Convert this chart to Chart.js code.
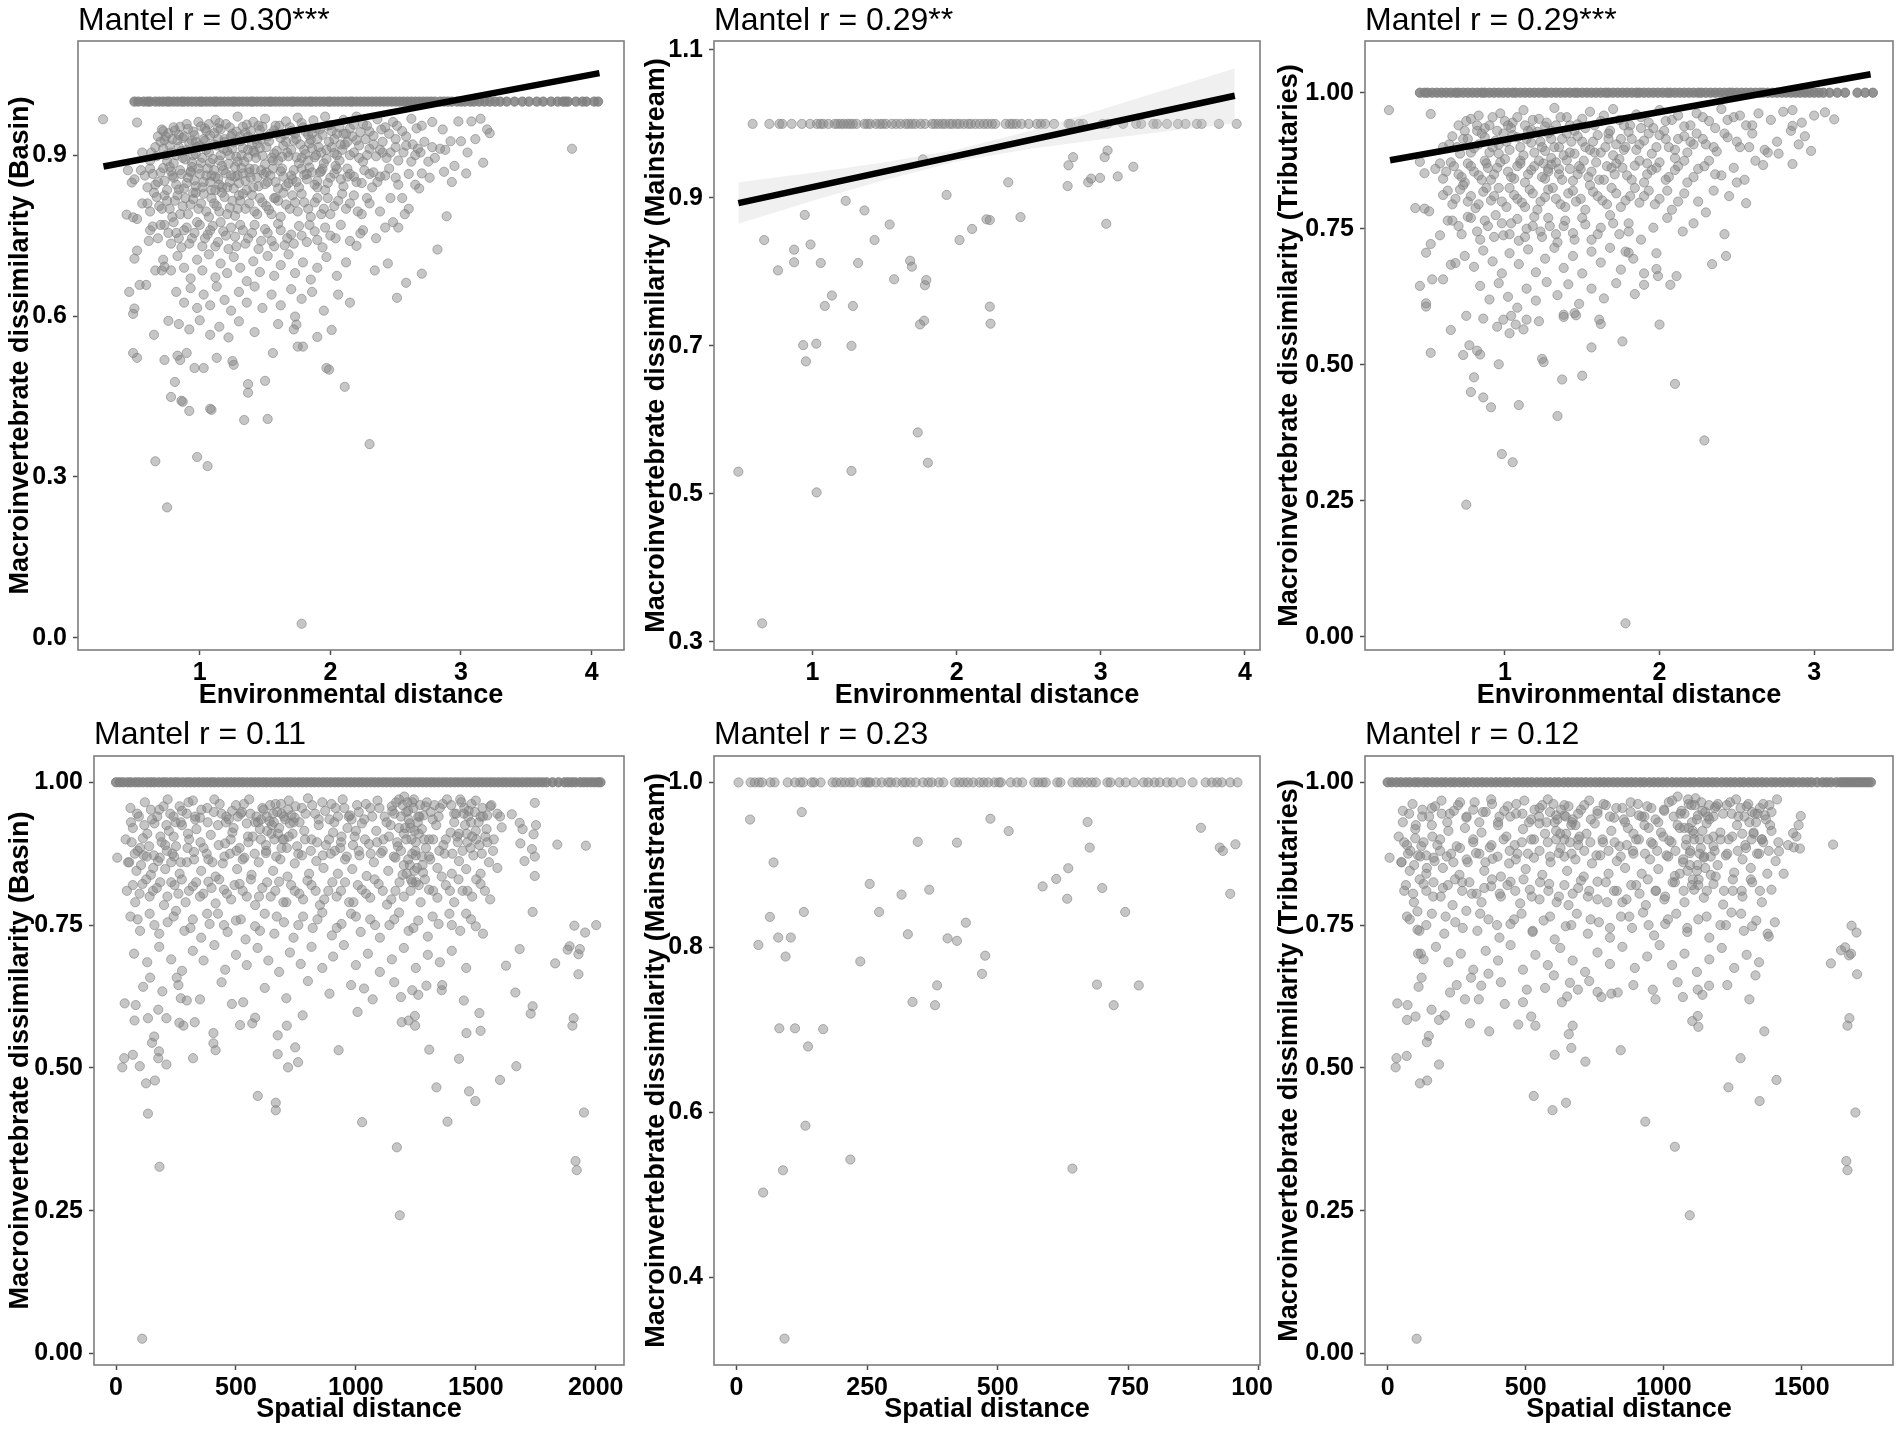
<!DOCTYPE html>
<html>
<head>
<meta charset="utf-8">
<title>Mantel plots</title>
<script src="https://cdn.jsdelivr.net/npm/chart.js@4.4.1/dist/chart.umd.min.js"></script>
<style>
  body { margin: 0; background: #fff; }
  #page { position: relative; width: 1902px; height: 1430px; overflow: hidden; background: #fff; }
  .cell { position: absolute; overflow: hidden; }
  .cell canvas { display: block; }
  .ttl { position: absolute; font: 32px 'Liberation Sans', Arial, sans-serif; line-height: 32px; color: #000; white-space: nowrap; }
</style>
</head>
<body>
<div id="page"></div>
<script>
// ---- text ----
const panelTitles = ['Mantel r = 0.30***', 'Mantel r = 0.29**', 'Mantel r = 0.29***',
                     'Mantel r = 0.11', 'Mantel r = 0.23', 'Mantel r = 0.12'];
const yTitles = ['Macroinvertebrate dissimilarity (Basin)', 'Macroinvertebrate dissimilarity (Mainstream)',
                 'Macroinvertebrate dissimilarity (Tributaries)'];
const xTitles = ['Environmental distance', 'Spatial distance'];

// ---- tick values ----
const basinEnvXTicks = [1, 2, 3, 4], basinEnvYTicks = [0, 0.3, 0.6, 0.9];
const mainEnvXTicks = [1, 2, 3, 4], mainEnvYTicks = [0.3, 0.5, 0.7, 0.9, 1.1];
const tribEnvXTicks = [1, 2, 3], tribEnvYTicks = [0, 0.25, 0.5, 0.75, 1];
const basinSpaXTicks = [0, 500, 1000, 1500, 2000], basinSpaYTicks = [0, 0.25, 0.5, 0.75, 1];
const mainSpaXTicks = [0, 250, 500, 750, 1000], mainSpaYTicks = [0.4, 0.6, 0.8, 1];
const tribSpaXTicks = [0, 500, 1000, 1500], tribSpaYTicks = [0, 0.25, 0.5, 0.75, 1];

// ---- fitted lines ----
const basinEnvFitX = [0.263, 4.06], basinEnvFitY = [0.879, 1.053];
const mainEnvFitX = [0.485, 3.93], mainEnvFitY = [0.893, 1.038];
const tribEnvFitX = [0.257, 3.365], tribEnvFitY = [0.876, 1.034];
const mainEnvBandX = [0.485, 1.0, 1.5, 2.0, 2.5, 3.0, 3.5, 3.93];
const mainEnvBandHi = [0.921, 0.934, 0.948, 0.965, 0.990, 1.019, 1.049, 1.075];
const mainEnvBandLo = [0.865, 0.896, 0.924, 0.949, 0.966, 0.979, 0.991, 1.001];

// ---- pairs with dissimilarity = 1 (x only) ----
const basinEnvOnes = [0.5,0.53,0.57,0.6,0.62,0.66,0.69,0.72,0.75,0.77,0.8,0.83,0.86,0.88,0.91,0.94,0.97,1.0,1.02,1.05,1.08,1.11,1.13,1.16,1.19,1.22,1.25,1.27,1.3,1.33,1.36,1.39,1.41,1.44,1.47,1.5,1.53,1.55,1.58,1.61,1.64,1.67,1.7,1.72,1.75,1.78,1.81,1.84,1.86,1.89,1.92,1.95,1.98,2.0,2.03,2.06,2.09,2.12,2.15,2.17,2.2,2.23,2.26,2.29,2.32,2.35,2.38,2.41,2.44,2.47,2.5,2.53,2.56,2.59,2.62,2.65,2.68,2.71,2.74,2.77,2.8,2.84,2.87,2.9,2.93,2.97,3.0,3.03,3.07,3.1,3.14,3.18,3.22,3.26,3.3,3.35,3.41,3.47,3.52,3.58,3.63,3.69,3.74,3.78,3.8,3.82,3.88,3.93,3.96,4.02,4.05];
const mainEnvOnes = [0.584,0.70,0.77,0.79,0.855,0.926,0.983,1.03,1.054,1.074,1.11,1.154,1.174,1.196,1.216,1.24,1.26,1.28,1.305,1.36,1.38,1.40,1.44,1.467,1.487,1.51,1.55,1.58,1.61,1.646,1.666,1.69,1.714,1.75,1.78,1.83,1.85,1.874,1.90,1.92,1.95,1.97,2.0,2.02,2.05,2.08,2.10,2.13,2.16,2.19,2.215,2.244,2.267,2.34,2.37,2.39,2.415,2.45,2.50,2.557,2.585,2.614,2.676,2.776,2.79,2.85,2.876,3.012,3.047,3.155,3.246,3.28,3.365,3.39,3.46,3.536,3.588,3.667,3.70,3.82,3.943];
const tribEnvOnes = [0.45,0.48,0.5,0.53,0.56,0.59,0.62,0.65,0.68,0.7,0.73,0.76,0.79,0.82,0.85,0.87,0.9,0.93,0.96,0.99,1.02,1.05,1.07,1.1,1.13,1.16,1.19,1.22,1.25,1.27,1.3,1.33,1.36,1.39,1.42,1.45,1.47,1.5,1.53,1.56,1.59,1.62,1.65,1.67,1.7,1.73,1.76,1.79,1.82,1.85,1.87,1.9,1.93,1.96,1.99,2.02,2.05,2.07,2.1,2.13,2.16,2.19,2.22,2.25,2.27,2.3,2.33,2.36,2.39,2.42,2.45,2.47,2.5,2.53,2.56,2.59,2.62,2.65,2.67,2.7,2.73,2.76,2.79,2.82,2.85,2.88,2.91,2.94,2.97,3.0,3.03,3.06,3.1,3.15,3.2,3.28,3.33,3.38];
const basinSpaOnes = [0,15,30,48,62,80,95,112,130,145,160,178,195,210,228,245,260,278,295,310,328,345,362,378,395,410,428,445,462,478,495,512,528,545,562,578,595,612,628,645,662,678,695,712,728,745,762,778,795,812,828,845,862,878,895,912,928,945,962,978,995,1012,1028,1045,1062,1078,1095,1112,1128,1145,1162,1178,1195,1212,1228,1245,1262,1278,1295,1312,1328,1345,1362,1378,1395,1412,1428,1445,1462,1478,1495,1512,1528,1545,1562,1578,1595,1612,1628,1645,1662,1678,1695,1712,1728,1745,1762,1778,1795,1820,1845,1870,1885,1900,1915,1935,1950,1965,1980,1995,2010,2020];
const mainSpaOnes = [4,27,35,43,49,65,73,98,112,122,128,144,149,161,184,191,200,208,217,224,239,247,252,256,267,278,290,296,306,318,324,333,343,357,367,374,387,396,418,427,435,443,453,465,473,482,494,502,506,525,537,547,570,578,586,592,614,620,643,653,661,671,680,688,710,716,733,745,761,779,788,800,810,824,835,851,873,898,910,920,929,945,959];
const tribSpaOnes = [0,15,32,48,65,80,98,112,130,145,162,178,195,210,228,243,260,276,292,310,326,342,358,375,392,408,425,440,458,474,490,506,522,540,556,572,588,605,620,638,654,670,686,702,718,735,752,768,784,800,817,833,850,866,882,898,915,930,948,964,980,996,1012,1030,1046,1062,1078,1095,1110,1128,1144,1160,1176,1192,1210,1226,1242,1258,1275,1290,1308,1324,1340,1356,1372,1390,1405,1422,1438,1455,1470,1488,1504,1520,1535,1555,1575,1590,1605,1625,1640,1650,1660,1670,1680,1690,1700,1710,1720,1730,1740,1750];

// ---- remaining pairs [distance, dissimilarity] ----
const basinEnvPts = [
  [0.26,.967],[0.52,.961],[3.85,.912],[3.17,.886],[3.04,.866],[2.95,.88],[2.82,.724],[2.89,.786],[2.7,.679],[2.58,.662],[2.51,.634],[2.44,.698],[2.34,.685],[2.23,.754],[2.2,.731],[2.3,.361],[2.11,.468],[2.01,.574],[1.97,.503],[1.99,.5],[1.9,.561],[1.79,.543],[1.75,.543],[1.78,.026],[1.73,.599],[1.74,.584],[1.56,.531],[1.52,.408],[1.5,.479],[1.37,.473],[1.37,.457],[1.34,.406],[1.26,.509],[1.25,.516],[1.13,.522],[1.09,.425],[1.08,.427],[1.06,.32],[0.98,.337],[1.03,.503],[0.96,.503],[0.92,.423],[0.87,.44],[0.86,.442],[0.9,.531],[0.85,.518],[0.83,.526],[0.81,.477],[0.78,.449],[0.75,.243],[0.66,.329],[0.73,.518],[0.76,.591],[0.65,.565],[0.52,.522],[0.49,.531],[0.49,.604],[0.5,.614],[0.46,.645],[0.54,.658],[0.59,.658],[0.44,.789],[0.49,.784],[0.52,.781],[0.5,.707],[0.52,.722],[0.61,.74],[0.64,.767],[0.66,.685],[0.71,.685],[0.73,.692],[0.45,.872],[0.48,.849],
  [2.98,.963],[3.11,.93],[3.22,.941],[3.0,.926],[2.92,.926],[2.78,.915],[2.84,.912],[2.67,.912],[2.62,.888],[2.75,.888],[2.7,.866],[2.65,.845],[2.87,.869],[2.55,.82],[2.6,.8],[2.57,.79],[2.48,.775],[2.52,.765],
  [0.72,.945],[0.8,.952],[0.84,.938],[0.9,.958],[0.95,.944],[0.99,.962],[1.04,.95],[1.08,.937],[1.12,.966],[1.16,.948],[1.2,.958],[1.25,.94],[1.29,.972],[1.33,.953],[1.37,.935],[1.41,.962],[1.46,.947],[1.5,.968],[1.54,.94],[1.58,.955],[1.62,.932],[1.66,.963],[1.7,.945],[1.75,.97],[1.79,.952],[1.83,.938],[1.87,.965],[1.92,.948],[1.96,.972],[2.0,.956],[2.05,.94],[2.1,.966],[2.15,.95],[2.2,.972],[2.25,.958],[2.3,.944],[2.36,.967],[2.42,.952],[2.48,.962],[2.55,.945],[2.62,.968],[2.7,.955],[2.78,.962],[2.86,.948],[3.08,.963],[3.15,.968],[3.2,.948],
  [0.56,.905],[0.62,.89],[0.66,.915],[0.7,.925],[0.74,.9],[0.77,.918],[0.8,.885],[0.83,.928],[0.86,.908],[0.89,.892],[0.92,.922],[0.95,.9],[0.98,.915],[1.01,.886],[1.04,.927],[1.07,.905],[1.1,.893],[1.13,.918],[1.16,.9],[1.19,.925],[1.22,.884],[1.25,.912],[1.28,.897],[1.31,.926],[1.34,.888],[1.37,.91],[1.4,.92],[1.43,.895],[1.46,.913],[1.5,.883],[1.53,.926],[1.57,.903],[1.6,.89],[1.64,.918],[1.68,.898],[1.72,.927],[1.76,.885],[1.8,.91],[1.84,.922],[1.88,.896],[1.91,.915],[1.95,.885],[1.99,.925],[2.03,.904],[2.07,.89],[2.11,.92],[2.15,.9],[2.2,.928],[2.25,.888],[2.3,.912],[2.35,.898],[2.4,.925],[2.46,.905],[2.52,.89],[2.58,.918],[2.65,.9],[2.72,.925],[2.8,.895],[2.88,.91],[3.05,.905],
  [0.5,.855],[0.55,.872],[0.6,.84],[0.64,.865],[0.68,.85],[0.72,.876],[0.75,.835],[0.79,.862],[0.82,.845],[0.85,.872],[0.88,.838],[0.91,.858],[0.94,.878],[0.97,.842],[1.0,.865],[1.03,.85],[1.06,.875],[1.09,.835],[1.12,.86],[1.15,.845],[1.18,.872],[1.21,.84],[1.24,.862],[1.27,.878],[1.3,.848],[1.33,.866],[1.36,.835],[1.39,.858],[1.42,.874],[1.45,.842],[1.49,.865],[1.52,.85],[1.56,.875],[1.6,.838],[1.64,.86],[1.68,.848],[1.72,.872],[1.76,.84],[1.8,.863],[1.84,.877],[1.88,.845],[1.92,.868],[1.96,.835],[2.0,.858],[2.05,.874],[2.1,.842],[2.15,.865],[2.2,.85],[2.26,.872],[2.32,.84],[2.38,.86],[2.45,.875],[2.52,.845],[2.6,.865],[2.68,.838],[2.76,.858],[2.93,.85],
  [0.56,.81],[0.62,.795],[0.67,.822],[0.71,.8],[0.75,.815],[0.79,.785],[0.83,.825],[0.87,.805],[0.91,.79],[0.95,.818],[0.99,.8],[1.03,.828],[1.07,.785],[1.11,.81],[1.15,.795],[1.19,.822],[1.23,.802],[1.27,.787],[1.31,.815],[1.35,.8],[1.4,.826],[1.44,.79],[1.48,.812],[1.53,.798],[1.57,.82],[1.62,.785],[1.66,.808],[1.71,.825],[1.75,.795],[1.8,.812],[1.85,.785],[1.9,.82],[1.95,.8],[2.0,.79],[2.06,.815],[2.12,.8],[2.18,.825],[2.24,.79],[2.3,.81],[2.38,.795],[2.46,.82],
  [0.62,.76],[0.68,.745],[0.73,.77],[0.78,.735],[0.82,.755],[0.86,.728],[0.9,.765],[0.94,.745],[0.98,.775],[1.02,.73],[1.06,.752],[1.1,.768],[1.14,.738],[1.18,.758],[1.22,.725],[1.27,.748],[1.31,.77],[1.35,.735],[1.4,.755],[1.45,.725],[1.5,.762],[1.55,.74],[1.6,.772],[1.65,.732],[1.7,.752],[1.76,.768],[1.82,.738],[1.88,.758],[1.94,.728],[2.0,.75],[2.08,.77],[2.15,.74],[2.25,.76],[2.35,.745],[2.42,.765],
  [0.72,.705],[0.78,.685],[0.83,.712],[0.88,.69],[0.93,.67],[0.98,.705],[1.02,.685],[1.07,.715],[1.12,.672],[1.16,.698],[1.21,.68],[1.26,.71],[1.31,.69],[1.36,.665],[1.41,.702],[1.46,.682],[1.52,.712],[1.57,.675],[1.62,.695],[1.68,.715],[1.73,.68],[1.79,.7],[1.85,.668],[1.9,.69],[1.97,.71],[2.05,.675],[2.12,.7],
  [0.82,.645],[0.88,.625],[0.93,.652],[0.98,.615],[1.03,.64],[1.08,.62],[1.13,.655],[1.19,.63],[1.24,.61],[1.3,.645],[1.36,.625],[1.42,.655],[1.48,.615],[1.55,.64],[1.62,.62],[1.7,.65],[1.78,.632],[1.86,.645],[1.95,.61],[2.06,.64],[2.15,.625],
  [0.84,.585],[0.92,.575],[1.0,.592],[1.08,.565],[1.15,.58],[1.22,.56],[1.3,.59],[1.42,.57],[1.6,.585],[1.72,.575],
  [0.82,.9],[0.88,.935],[0.93,.87],[0.97,.925],[1.02,.895],[1.05,.945],[1.09,.862],[1.14,.93],[1.17,.88],[1.21,.908],[1.24,.935],[1.27,.86],[1.32,.9],[1.35,.942],[1.38,.875],[1.42,.905],[1.47,.93],[1.51,.868],[1.55,.895],[1.59,.94],[1.63,.875],[1.67,.905],[1.71,.855],[1.74,.93],[1.78,.895],[1.82,.865],[1.86,.94],[1.89,.9],[1.93,.87],[1.97,.91],[2.01,.945],[2.04,.88],[2.08,.92],[2.13,.86],[2.17,.935],[2.22,.895],[2.27,.93],[2.33,.868],[2.4,.905],[0.78,.87],[0.74,.935],[1.12,.835],[1.3,.825],[1.58,.82],[1.9,.84],[2.1,.94],[1.45,.955],[1.15,.96],[0.95,.83],[2.5,.93],
  [0.68,.935],[0.71,.948],[0.73,.928],[0.76,.941],[0.79,.93],[0.81,.946],[0.85,.953],[0.87,.932],[0.91,.949],[0.94,.927],[0.96,.937],[1.01,.954],[1.03,.93],[1.07,.958],[1.11,.941],[1.14,.95],[1.19,.93],[1.23,.952],[1.28,.944],[1.31,.935],[1.36,.957],[1.39,.945],[1.43,.93],[1.48,.953],[1.52,.935],[1.57,.946],[1.61,.955],[1.65,.938],[1.69,.952],[1.73,.94],[1.78,.96],[1.81,.944],[1.85,.929],[1.89,.95],[1.94,.938],[1.98,.955],[2.03,.93],[2.07,.952],[2.12,.94],[2.18,.957],[2.23,.943],[2.28,.955],[2.33,.936],[2.39,.948],[2.45,.94],[2.51,.955],[2.58,.935],[2.66,.95],
  [0.63,.905],[0.67,.898],[0.72,.912],[0.75,.889],[0.78,.905],[0.84,.915],[0.87,.895],[0.9,.91],[0.94,.887],[0.97,.902],[1.0,.918],[1.05,.91],[1.08,.886],[1.11,.92],[1.15,.89],[1.18,.912],[1.23,.9],[1.26,.924],[1.29,.888],[1.33,.913],[1.37,.896],[1.41,.908],[1.44,.922],[1.48,.899],[1.51,.915],[1.56,.89],[1.59,.908],[1.63,.897],[1.66,.925],[1.7,.91],[1.74,.896],[1.77,.92],[1.81,.902],[1.83,.89],[1.86,.913],[1.9,.93],[1.93,.905],[1.97,.893],[2.01,.915],[2.05,.9],[2.09,.91],[2.13,.925],[2.18,.905],[2.22,.918],[2.28,.9],[2.33,.92],[2.38,.91],[2.43,.895],[2.5,.915],[2.56,.905],[2.63,.92],[2.69,.905],
  [0.58,.862],[0.62,.875],[0.66,.845],[0.7,.868],[0.73,.852],[0.77,.878],[0.8,.858],[0.84,.836],[0.86,.865],[0.9,.848],[0.93,.868],[0.96,.853],[0.99,.875],[1.02,.84],[1.05,.862],[1.08,.85],[1.11,.872],[1.14,.856],[1.17,.84],[1.2,.866],[1.23,.85],[1.26,.838],[1.29,.862],[1.32,.876],[1.35,.852],[1.38,.868],[1.41,.84],[1.44,.858],[1.47,.872],[1.5,.846],[1.54,.862],[1.58,.85],[1.62,.87],[1.66,.842],[1.7,.862],[1.74,.85],[1.78,.875],[1.82,.855],[1.86,.868],[1.9,.852],[1.94,.875],[1.98,.848],[2.03,.866],[2.08,.855],[2.13,.875],[2.18,.86],[2.24,.848],[2.3,.865],[2.36,.85],[2.42,.862],[2.5,.858],
  [0.6,.81],[0.65,.83],[0.69,.805],[0.73,.825],[0.77,.8],[0.81,.815],[0.85,.79],[0.89,.82],[0.93,.808],[0.97,.83],[1.01,.81],[1.05,.795],[1.09,.82],[1.13,.805],[1.17,.83],[1.21,.79],[1.25,.815],[1.29,.8],[1.33,.828],[1.38,.81],[1.42,.795],[1.46,.82],[1.51,.805],[1.55,.79],[1.6,.815],[1.64,.83],[1.69,.8],[1.73,.812],[1.78,.828],[1.83,.8],[1.88,.812],[1.93,.79],[1.98,.82],[2.03,.805],[2.09,.828],[2.15,.81],[2.21,.795],[2.28,.82],
  [0.7,.77],[0.76,.755],[0.8,.775],[0.84,.745],[0.88,.76],[0.92,.735],[0.96,.755],[1.0,.77],[1.04,.745],[1.08,.76],[1.12,.73],[1.16,.775],[1.2,.75],[1.24,.765],[1.28,.73],[1.33,.76],[1.37,.745],[1.42,.77],[1.47,.74],[1.52,.755],[1.57,.73],[1.62,.76],[1.67,.745],[1.72,.735],[1.78,.75],[1.84,.77],[1.9,.742],[1.96,.765],[2.04,.745]
];
const mainEnvPts = [
  [0.485,.53],[0.65,.325],[0.664,.843],[0.76,.802],[0.872,.83],[0.872,.813],[0.946,.877],[0.986,.837],[1.057,.812],[0.935,.701],[1.026,.703],[0.954,.679],[1.085,.754],[1.134,.768],[1.028,.502],[1.23,.896],[1.316,.812],[1.36,.883],[1.43,.843],[1.28,.754],[1.27,.7],[1.27,.531],[1.535,.864],[1.566,.79],[1.677,.815],[1.689,.807],[1.766,.952],[1.789,.789],[1.78,.782],[1.774,.734],[1.746,.729],[1.73,.583],[1.8,.542],[1.93,.904],[2.02,.843],[2.107,.858],[2.207,.871],[2.23,.87],[2.23,.753],[2.235,.73],[2.358,.921],[2.443,.874],[2.77,.916],[2.776,.944],[2.808,.955],[2.913,.921],[2.933,.926],[2.995,.927],[3.027,.955],[3.047,.964],[3.038,.865],[3.118,.929],[3.226,.942]
];
const tribEnvPts = [
  [0.25,.968],[0.52,.961],[3.07,.964],[3.13,.951],[2.94,.92],[2.86,.968],[2.86,.939],[2.98,.893],[2.86,.869],[2.77,.888],[2.67,.867],[2.56,.797],[2.43,.7],[2.34,.685],[2.29,.361],[2.1,.465],[2.11,.663],[2.07,.647],[2.0,.574],[1.99,.663],[1.98,.676],[1.9,.647],[1.78,.025],[1.76,.543],[1.78,.708],[1.8,.706],[1.61,.583],[1.56,.532],[1.5,.48],[1.34,.406],[1.37,.473],[1.38,.588],[1.38,.592],[1.46,.591],[1.24,.511],[1.25,.505],[1.14,.583],[1.09,.426],[1.05,.321],[0.98,.336],[1.07,.574],[1.03,.558],[0.99,.583],[0.96,.501],[0.91,.422],[0.86,.44],[0.84,.519],[0.82,.526],[0.8,.477],[0.78,.45],[0.75,.243],[0.73,.518],[0.77,.536],[0.75,.59],[0.65,.564],[0.52,.522],[0.49,.607],[0.49,.613],[0.45,.645],[0.53,.657],[0.6,.657],[0.42,.788],[0.48,.787],[0.51,.782],[0.49,.706],[0.52,.722],[0.58,.738],[0.63,.765],[0.65,.684],[0.68,.687],[0.45,.873],[0.48,.852],
  [2.85,.93],[2.9,.905],[2.62,.875],[2.7,.89],[2.5,.835],[2.45,.81],[2.42,.74],[2.3,.78],[2.22,.76],
  [0.75,.948],[0.83,.958],[0.9,.94],[0.97,.962],[1.05,.945],[1.12,.968],[1.18,.95],[1.26,.938],[1.32,.972],[1.4,.955],[1.47,.942],[1.55,.965],[1.62,.948],[1.7,.97],[1.77,.94],[1.85,.96],[1.93,.945],[2.0,.968],[2.08,.95],[2.16,.938],[2.24,.962],[2.32,.948],[2.4,.97],[2.48,.955],[2.56,.94],[2.64,.962],[2.72,.95],[2.8,.965],[2.92,.945],[3.0,.958],
  [0.6,.9],[0.66,.92],[0.71,.888],[0.76,.915],[0.8,.898],[0.85,.925],[0.9,.89],[0.94,.912],[0.99,.925],[1.03,.895],[1.08,.918],[1.12,.885],[1.17,.908],[1.21,.928],[1.26,.893],[1.3,.915],[1.35,.9],[1.4,.925],[1.45,.888],[1.5,.91],[1.55,.895],[1.6,.922],[1.65,.9],[1.7,.885],[1.75,.915],[1.8,.928],[1.85,.895],[1.9,.912],[1.95,.888],[2.0,.922],[2.06,.9],[2.12,.915],[2.18,.89],[2.24,.925],[2.3,.905],[2.37,.892],[2.44,.918],[2.52,.9],[2.6,.925],[2.68,.895],[2.76,.91],
  [0.55,.86],[0.6,.842],[0.65,.872],[0.7,.85],[0.74,.835],[0.78,.865],[0.83,.848],[0.87,.875],[0.91,.84],[0.95,.862],[1.0,.878],[1.04,.845],[1.08,.865],[1.13,.835],[1.17,.858],[1.22,.875],[1.26,.842],[1.3,.868],[1.35,.85],[1.4,.876],[1.44,.838],[1.49,.86],[1.54,.845],[1.59,.872],[1.64,.84],[1.69,.862],[1.74,.878],[1.79,.848],[1.84,.866],[1.9,.835],[1.95,.858],[2.0,.872],[2.06,.845],[2.12,.865],[2.18,.835],[2.25,.86],[2.32,.875],[2.4,.848],[2.48,.862],[2.55,.84],
  [0.6,.812],[0.66,.795],[0.71,.822],[0.76,.8],[0.81,.788],[0.86,.818],[0.91,.802],[0.96,.825],[1.01,.79],[1.06,.812],[1.11,.798],[1.16,.822],[1.21,.785],[1.26,.808],[1.31,.825],[1.36,.795],[1.41,.815],[1.46,.8],[1.52,.785],[1.57,.818],[1.63,.802],[1.69,.825],[1.75,.79],[1.81,.81],[1.87,.798],[1.93,.82],[2.0,.805],[2.08,.785],[2.16,.815],[2.25,.8],[2.35,.82],
  [0.66,.765],[0.72,.74],[0.78,.77],[0.84,.73],[0.89,.755],[0.94,.775],[0.99,.738],[1.04,.76],[1.09,.728],[1.14,.75],[1.19,.772],[1.24,.735],[1.29,.755],[1.34,.725],[1.39,.765],[1.44,.742],[1.5,.77],[1.56,.73],[1.62,.752],[1.68,.775],[1.74,.74],[1.8,.76],[1.88,.73],[1.96,.752],[2.05,.77],[2.15,.745],
  [0.74,.7],[0.8,.68],[0.86,.71],[0.92,.69],[0.98,.668],[1.03,.705],[1.09,.685],[1.15,.712],[1.2,.67],[1.26,.695],[1.32,.715],[1.38,.678],[1.44,.7],[1.5,.668],[1.56,.708],[1.62,.688],[1.68,.715],[1.75,.675],[1.83,.695],[1.9,.668],[1.98,.705],
  [0.84,.645],[0.9,.62],[0.96,.65],[1.02,.625],[1.08,.605],[1.14,.64],[1.2,.618],[1.27,.652],[1.34,.628],[1.41,.648],[1.48,.612],[1.56,.64],[1.64,.622],[1.72,.65],[1.84,.63],
  [0.86,.585],[0.95,.57],[1.04,.59],[1.12,.565],[1.22,.58],[1.45,.595],[1.62,.575],
  [0.82,.93],[0.88,.87],[0.96,.905],[1.02,.94],[1.1,.875],[1.15,.93],[1.24,.9],[1.28,.86],[1.33,.94],[1.38,.885],[1.43,.91],[1.48,.865],[1.52,.935],[1.58,.89],[1.67,.915],[1.72,.87],[1.78,.9],[1.88,.935],[1.92,.87],[2.03,.93],[2.1,.88],[2.2,.91],[1.3,.88],[1.35,.86],[1.25,.87],
  [0.7,.94],[0.74,.93],[0.78,.952],[0.82,.94],[0.87,.935],[0.92,.955],[0.95,.93],[1.0,.948],[1.04,.935],[1.08,.955],[1.13,.94],[1.17,.932],[1.22,.952],[1.27,.945],[1.3,.93],[1.36,.955],[1.42,.94],[1.45,.93],[1.5,.952],[1.58,.94],[1.64,.958],[1.68,.93],[1.74,.95],[1.81,.94],[1.88,.955],[1.96,.935],[2.04,.948],[2.12,.958],[2.2,.94],[2.28,.955],[2.36,.935],[2.44,.95],[2.52,.958],[2.6,.94],
  [0.64,.905],[0.69,.9],[0.73,.915],[0.78,.89],[0.83,.905],[0.87,.918],[0.92,.9],[0.96,.888],[1.01,.91],[1.05,.922],[1.1,.9],[1.14,.915],[1.19,.89],[1.23,.91],[1.28,.925],[1.32,.9],[1.37,.915],[1.42,.89],[1.47,.92],[1.52,.9],[1.57,.91],[1.62,.89],[1.67,.925],[1.72,.905],[1.77,.895],[1.82,.915],[1.87,.905],[1.93,.925],[1.98,.9],[2.04,.915],[2.1,.895],[2.16,.92],[2.22,.905],[2.28,.915],[2.35,.9],[2.42,.925],[2.5,.91],[2.58,.9],
  [0.58,.87],[0.62,.855],[0.67,.865],[0.72,.845],[0.76,.87],[0.8,.855],[0.85,.84],[0.89,.862],[0.93,.85],[0.97,.872],[1.02,.855],[1.06,.842],[1.1,.87],[1.15,.85],[1.19,.865],[1.24,.845],[1.28,.855],[1.33,.872],[1.37,.84],[1.42,.86],[1.47,.85],[1.51,.875],[1.56,.855],[1.61,.84],[1.66,.865],[1.71,.85],[1.76,.862],[1.82,.84],[1.87,.875],[1.92,.85],[1.98,.862],[2.04,.84],[2.1,.858],[2.16,.875],[2.22,.845],[2.29,.865],[2.36,.85],
  [0.63,.82],[0.68,.805],[0.73,.83],[0.78,.81],[0.83,.795],[0.88,.825],[0.93,.81],[0.98,.8],[1.03,.825],[1.08,.805],[1.13,.79],[1.18,.815],[1.23,.8],[1.28,.822],[1.33,.805],[1.39,.79],[1.44,.82],[1.49,.805],[1.55,.83],[1.6,.81],[1.66,.795],[1.72,.815],[1.78,.802],[1.84,.825],[1.9,.81],[1.97,.795],[2.05,.82],[2.12,.8],
  [0.7,.755],[0.76,.772],[0.82,.745],[0.87,.765],[0.93,.735],[0.98,.76],[1.03,.74],[1.08,.768],[1.13,.735],[1.18,.755],[1.23,.745],[1.28,.77],[1.33,.74],[1.38,.755],[1.45,.73],[1.52,.758],[1.6,.74],[1.7,.76],[1.8,.745]
];
const basinSpaPts = [
  [5,.868],[109,.026],[181,.327],[133,.42],[125,.473],[162,.478],[26,.501],[34,.517],[99,.503],[70,.523],[176,.517],[179,.529],[210,.506],[150,.544],[159,.555],[133,.587],[77,.583],[82,.61],[36,.613],[113,.642],[142,.658],[176,.602],[193,.634],[210,.587],[253,.658],[270,.622],[295,.618],[264,.579],[281,.574],[321,.517],[328,.58],[406,.543],[415,.531],[406,.561],[483,.612],[517,.575],[568,.578],[580,.588],[591,.451],[666,.439],[666,.426],[674,.524],[674,.557],[712,.574],[717,.501],[747,.536],[759,.51],[778,.592],[928,.531],[1007,.598],[1026,.405],[1034,.639],[1171,.361],[1183,.242],[1188,.624],[1191,.58],[1220,.583],[1246,.591],[1247,.574],[1235,.636],[1306,.532],[1294,.644],[1336,.466],[1358,.636],[1382,.406],[1430,.516],[1461,.561],[1472,.459],[1498,.442],[1515,.596],[1520,.565],[1601,.479],[1626,.679],[1665,.632],[1669,.503],[1729,.595],[1737,.608],[1683,.708],[1831,.683],[1840,.891],[1883,.707],[1891,.713],[1903,.574],[1908,.587],[1911,.749],[1916,.337],[1921,.321],[1928,.699],[1934,.708],[1928,.664],[1951,.422],[1956,.737],[1959,.889],[2002,.75],[1737,.773],[1746,.836],[1746,.87],[1734,.883],[1741,.909],[1751,.925],[1746,.964],[1703,.862],[1686,.893],[1695,.918],[1683,.929],[1650,.944],[1608,.921],[1601,.94],
  [60,.955],[95,.94],[120,.965],[150,.935],[180,.952],[215,.97],[240,.94],[265,.958],[295,.945],[320,.968],[350,.938],[380,.955],[410,.97],[440,.945],[470,.935],[500,.96],[525,.948],[555,.97],[585,.94],[610,.955],[640,.932],[665,.962],[690,.945],[720,.968],[745,.938],[775,.955],[800,.972],[830,.945],[860,.965],[890,.935],[915,.955],[945,.97],[975,.942],[1005,.96],[1035,.935],[1060,.955],[1090,.968],[1120,.94],[1150,.958],[1180,.97],[1210,.948],[1235,.965],[1260,.94],[1290,.958],[1320,.935],[1350,.955],[1380,.97],[1410,.945],[1440,.965],[1470,.95],[1500,.968],[1530,.94],[1560,.958],[1590,.945],
  [40,.9],[70,.92],[100,.885],[130,.91],[160,.928],[190,.895],[220,.915],[250,.888],[275,.925],[305,.9],[335,.918],[365,.885],[395,.908],[425,.925],[455,.893],[485,.912],[515,.885],[545,.928],[570,.905],[600,.918],[625,.89],[650,.925],[675,.91],[700,.9],[725,.928],[755,.888],[785,.915],[815,.9],[845,.925],[875,.89],[905,.912],[935,.885],[965,.92],[995,.905],[1025,.928],[1055,.892],[1085,.915],[1115,.9],[1145,.925],[1175,.888],[1200,.91],[1225,.928],[1250,.895],[1275,.918],[1305,.9],[1335,.925],[1365,.89],[1395,.912],[1425,.895],[1455,.925],[1485,.905],[1515,.89],[1545,.918],[1575,.9],
  [55,.86],[85,.845],[115,.872],[145,.838],[175,.862],[205,.848],[235,.875],[265,.84],[295,.86],[325,.878],[355,.845],[385,.865],[415,.835],[445,.858],[475,.875],[505,.848],[535,.868],[565,.838],[595,.86],[625,.876],[655,.845],[685,.865],[715,.835],[745,.858],[775,.872],[805,.84],[835,.862],[865,.85],[895,.875],[925,.84],[955,.865],[985,.848],[1015,.872],[1045,.836],[1075,.86],[1105,.876],[1135,.845],[1165,.868],[1195,.838],[1225,.855],[1250,.872],[1280,.842],[1310,.865],[1340,.85],[1370,.875],[1400,.84],[1430,.862],[1460,.848],[1490,.872],[1520,.84],[1555,.86],[1590,.85],
  [45,.81],[80,.79],[110,.822],[140,.8],[170,.815],[200,.785],[230,.825],[260,.805],[290,.79],[320,.818],[350,.8],[385,.826],[415,.788],[450,.812],[480,.795],[515,.822],[545,.8],[580,.785],[610,.815],[645,.8],[680,.826],[710,.79],[745,.81],[780,.795],[815,.82],[850,.785],[885,.81],[920,.8],[955,.825],[990,.79],[1025,.812],[1060,.798],[1095,.822],[1130,.786],[1165,.81],[1200,.8],[1235,.825],[1270,.79],[1305,.812],[1340,.798],[1375,.82],[1410,.79],[1445,.81],[1485,.8],[1520,.822],[1560,.795],
  [60,.765],[100,.74],[140,.77],[180,.735],[215,.755],[250,.775],[285,.74],[320,.76],[355,.728],[390,.752],[425,.77],[465,.738],[500,.758],[540,.725],[580,.748],[620,.77],[660,.735],[700,.755],[740,.728],[780,.765],[820,.745],[860,.772],[900,.732],[940,.752],[980,.77],[1020,.738],[1060,.76],[1100,.728],[1140,.75],[1180,.772],[1220,.74],[1260,.758],[1300,.73],[1345,.752],[1390,.77],[1435,.74],[1480,.76],[1530,.735],
  [75,.7],[130,.685],[180,.712],[230,.69],[275,.67],[320,.705],[365,.688],[410,.715],[455,.672],[500,.698],[545,.68],[590,.71],[635,.688],[680,.668],[725,.702],[770,.682],[815,.712],[860,.675],[905,.695],[950,.715],[1000,.68],[1050,.7],[1100,.668],[1150,.69],[1200,.71],[1250,.675],[1300,.698],[1350,.685],[1400,.705],[1460,.675],
  [260,.645],[350,.62],[440,.65],[530,.615],[620,.64],[710,.622],[800,.652],[890,.63],[980,.645],[1070,.62],[1160,.65],[1260,.628],[1360,.645],[1450,.618],
  [605,.935],[630,.915],[655,.945],[680,.92],[700,.94],[720,.905],[740,.93],[660,.9],[690,.885],
  [1160,.945],[1180,.92],[1195,.96],[1210,.9],[1220,.935],[1235,.875],[1245,.915],[1255,.85],[1265,.94],[1275,.87],[1285,.9],[1230,.83],[1200,.855],[1250,.825],[1215,.965],[1240,.955],
  [1410,.93],[1430,.91],[1450,.945],[1465,.895],[1480,.93],[1500,.915],[1520,.94],[1540,.905],
  [210,.925],[240,.905],[270,.93],[300,.91],[330,.935],[230,.86],[460,.94],[490,.92],[520,.945],[550,.905],[580,.93],[910,.93],[940,.905],[970,.94],[1000,.915],
  [65,.895],[90,.88],[112,.902],[138,.888],[158,.872],[185,.905],[205,.89],[62,.93],[88,.945],[118,.925],[145,.952],[172,.94],[198,.958],[226,.945],[248,.93],[275,.95],[302,.965],[330,.94],[356,.952],[382,.93],[408,.948],[432,.962],[458,.93],[484,.95],[508,.94],[533,.962],[560,.945],[592,.93],[615,.952],[628,.94],[642,.96],[658,.93],[672,.948],[688,.962],[705,.935],[718,.952],[732,.942],[748,.958],[765,.93],[790,.945],[818,.96],[845,.935],[872,.95],[898,.962],[925,.94],[952,.955],[982,.935],[1012,.948],[1042,.962],[1068,.94],[1098,.955],[1128,.93],[1152,.95],[1168,.965],[1188,.94],[1202,.975],[1218,.95],[1228,.92],[1242,.97],[1258,.93],[1268,.96],[1282,.942],[1296,.965],[1312,.948],[1328,.96],[1345,.94],[1362,.962],[1398,.96],[1418,.945],[1435,.97],[1452,.955],[1468,.94],[1482,.962],[1496,.948],[1512,.93],[1528,.955],[1548,.942],[1565,.96],
  [50,.86],[78,.875],[104,.855],[128,.87],[155,.85],[182,.868],[212,.88],[242,.87],[270,.86],[298,.885],[325,.865],[352,.895],[378,.875],[402,.86],[428,.89],[452,.87],[478,.9],[502,.88],[528,.865],[552,.895],[578,.875],[604,.9],[626,.88],[648,.91],[668,.87],[694,.9],[712,.885],[736,.91],[760,.875],[788,.9],[812,.88],[838,.895],[862,.872],[888,.9],[912,.88],[938,.895],[962,.87],[988,.89],[1012,.88],[1038,.9],[1062,.875],[1088,.895],[1112,.88],[1138,.905],[1158,.87],[1172,.895],[1188,.88],[1205,.92],[1218,.865],[1232,.9],[1248,.88],[1262,.91],[1278,.855],[1292,.885],[1305,.87],[1322,.9],[1348,.88],[1375,.9],[1402,.875],[1422,.905],[1445,.88],[1462,.91],[1478,.885],[1502,.9],[1525,.875],[1548,.895],[1572,.88],
  [70,.82],[98,.805],[126,.83],[154,.81],[184,.825],[214,.8],[244,.82],[274,.83],[304,.81],[334,.825],[364,.805],[398,.815],[430,.83],[462,.805],[494,.82],[528,.81],[562,.83],[596,.8],[630,.825],[664,.81],[698,.79],[730,.82],[764,.805],[798,.828],[832,.81],[868,.795],[902,.825],[938,.81],[972,.79],[1008,.82],[1042,.805],[1078,.83],[1112,.81],[1148,.795],[1182,.825],[1212,.84],[1228,.81],[1244,.845],[1262,.82],[1288,.83],[1322,.81],[1358,.835],[1392,.81],[1428,.83],[1465,.81],[1502,.83],[1538,.81],
  [90,.76],[160,.75],[240,.765],[310,.745],[380,.77],[450,.75],[520,.76],[600,.74],[670,.765],[760,.75],[840,.76],[920,.745],[1000,.765],[1080,.75],[1160,.76],[1240,.745],[1320,.765],[1400,.75],[1460,.77],[1500,.748]
];
const mainSpaPts = [
  [26,.955],[125,.964],[71,.903],[42,.803],[64,.837],[80,.812],[104,.812],[94,.789],[129,.843],[82,.702],[112,.702],[137,.68],[166,.701],[132,.584],[89,.53],[51,.503],[92,.326],[218,.543],[237,.783],[255,.877],[273,.843],[316,.864],[328,.816],[337,.734],[347,.928],[369,.87],[380,.73],[384,.754],[404,.811],[422,.927],[422,.808],[439,.83],[470,.768],[476,.79],[486,.956],[521,.941],[586,.874],[612,.883],[635,.896],[633,.859],[643,.532],[672,.952],[676,.921],[690,.755],[700,.872],[722,.73],[744,.843],[770,.754],[889,.945],[925,.921],[931,.917],[955,.925],[945,.865]
];
const tribSpaPts = [
  [7,.868],[105,.026],[29,.501],[32,.517],[69,.521],[35,.613],[72,.61],[70,.584],[101,.59],[117,.473],[143,.478],[142,.545],[149,.556],[186,.506],[159,.602],[186,.584],[207,.592],[226,.632],[123,.658],[112,.642],[110,.7],[120,.7],[108,.742],[108,.774],[298,.578],[280,.62],[302,.658],[365,.665],[339,.644],[368,.564],[424,.612],[473,.576],[504,.637],[529,.451],[520,.59],[535,.574],[597,.426],[602,.662],[605,.523],[646,.439],[660,.649],[656,.559],[670,.574],[631,.615],[665,.535],[716,.511],[689,.637],[760,.633],[774,.624],[833,.632],[844,.531],[933,.406],[960,.637],[1040,.362],[1094,.242],[1069,.624],[1103,.582],[1123,.591],[1125,.572],[1123,.637],[1164,.644],[1234,.466],[1278,.517],[1347,.442],[1332,.662],[1364,.564],[1408,.479],[1376,.735],[1402,.755],[1605,.683],[1613,.891],[1642,.706],[1657,.711],[1665,.574],[1672,.587],[1680,.749],[1661,.337],[1665,.321],[1671,.697],[1678,.7],[1694,.422],[1700,.664],[1698,.737],[1496,.941],[1488,.925],[1468,.911],[1471,.886],[1493,.884],[1434,.84],[1417,.879],
  [55,.95],[90,.962],[125,.94],[160,.955],[195,.968],[225,.945],[255,.96],[285,.938],[315,.965],[345,.948],[375,.97],[405,.94],[435,.958],[465,.945],[495,.968],[520,.935],[550,.955],[580,.97],[610,.942],[640,.96],[670,.935],[700,.952],[730,.968],[760,.945],[790,.96],[820,.938],[850,.955],[880,.965],[910,.942],[940,.958],[970,.935],[1000,.952],[1030,.968],[1060,.945],[1090,.962],[1115,.972],[1140,.95],[1165,.935],[1190,.958],[1215,.945],[1240,.965],[1270,.94],[1300,.958],[1330,.945],[1360,.962],[1390,.948],[1410,.97],
  [40,.905],[70,.89],[100,.918],[130,.895],[160,.925],[190,.9],[220,.915],[250,.888],[280,.92],[310,.9],[340,.912],[370,.886],[400,.925],[430,.905],[460,.89],[490,.918],[520,.9],[550,.928],[580,.895],[610,.915],[640,.9],[665,.925],[690,.89],[720,.91],[750,.928],[780,.895],[810,.915],[840,.888],[870,.92],[900,.9],[930,.925],[960,.892],[990,.912],[1020,.898],[1050,.925],[1080,.89],[1105,.915],[1130,.9],[1155,.928],[1180,.888],[1205,.912],[1235,.9],[1265,.925],[1295,.89],[1325,.912],[1355,.9],[1385,.925],[1415,.895],[1450,.89],[1480,.905],
  [50,.86],[80,.845],[110,.872],[140,.84],[170,.862],[200,.85],[230,.875],[260,.838],[290,.86],[320,.876],[350,.845],[380,.866],[410,.835],[440,.858],[470,.875],[500,.848],[530,.868],[560,.838],[590,.86],[620,.876],[650,.845],[680,.865],[710,.835],[740,.858],[770,.872],[800,.84],[830,.862],[860,.85],[890,.875],[920,.84],[950,.865],[980,.848],[1010,.872],[1040,.836],[1070,.86],[1095,.876],[1120,.845],[1145,.868],[1170,.838],[1195,.855],[1225,.872],[1255,.842],[1285,.865],[1315,.85],[1345,.875],[1375,.84],[1405,.862],
  [60,.81],[95,.79],[130,.822],[165,.8],[200,.815],[235,.785],[270,.825],[305,.805],[340,.79],[375,.818],[410,.8],[445,.826],[480,.788],[515,.812],[550,.795],[585,.822],[620,.8],[655,.785],[690,.815],[725,.8],[760,.826],[795,.79],[830,.81],[865,.795],[900,.82],[935,.785],[970,.81],[1005,.8],[1040,.825],[1075,.79],[1110,.812],[1145,.798],[1180,.822],[1215,.786],[1250,.81],[1285,.8],[1320,.825],[1355,.79],[1390,.812],
  [70,.765],[115,.74],[160,.77],[205,.735],[245,.755],[285,.775],[325,.74],[365,.76],[405,.728],[445,.752],[485,.77],[525,.738],[565,.758],[605,.725],[645,.748],[685,.77],[725,.735],[765,.755],[805,.728],[845,.765],[885,.745],[925,.772],[965,.732],[1005,.752],[1045,.77],[1085,.738],[1125,.76],[1165,.728],[1205,.75],[1245,.772],[1290,.74],[1335,.758],[1380,.73],
  [130,.69],[175,.712],[220,.685],[265,.7],[310,.672],[355,.705],[400,.688],[445,.715],[490,.672],[535,.698],[580,.68],[625,.71],[670,.688],[715,.668],[760,.702],[805,.682],[850,.712],[895,.675],[940,.695],[985,.715],[1030,.68],[1075,.7],[1120,.668],[1165,.69],[1210,.71],[1255,.675],[1300,.698],[1345,.685],
  [250,.645],[330,.62],[410,.65],[490,.615],[570,.64],[650,.625],[730,.652],[810,.63],[890,.645],[970,.62],[1050,.65],[1140,.628],[1230,.645],[1310,.62],
  [605,.93],[625,.91],[645,.94],[660,.895],[680,.925],[695,.905],[640,.87],
  [1075,.945],[1090,.92],[1100,.96],[1110,.9],[1120,.935],[1130,.875],[1140,.915],[1150,.85],[1160,.94],[1170,.87],[1180,.905],[1105,.83],[1125,.82],[1095,.855],[1185,.955],
  [1310,.93],[1325,.91],[1340,.945],[1355,.9],[1370,.935],[1390,.915],[860,.93],[890,.91],[920,.94],[945,.92],
  [60,.895],[82,.88],[100,.902],[122,.888],[140,.872],[162,.905],[180,.89],[55,.93],[78,.945],[102,.925],[126,.952],[150,.94],[172,.958],[196,.945],[216,.93],[240,.95],[262,.965],[286,.94],[310,.952],[332,.93],[355,.948],[378,.962],[400,.93],[422,.95],[444,.94],[466,.962],[488,.945],[512,.93],[532,.952],[548,.94],[560,.96],[575,.93],[588,.948],[600,.962],[615,.935],[628,.952],[640,.942],[655,.958],[668,.93],[690,.945],[712,.96],[736,.935],[760,.95],[782,.962],[805,.94],[828,.955],[855,.935],[880,.948],[906,.962],[930,.94],[955,.955],[980,.93],[1002,.95],[1018,.965],[1036,.94],[1050,.975],[1064,.95],[1074,.92],[1088,.97],[1102,.93],[1112,.96],[1124,.942],[1136,.965],[1150,.948],[1164,.96],[1180,.94],[1196,.962],[1228,.96],[1246,.945],[1262,.97],[1278,.955],[1292,.94],[1306,.962],[1320,.948],[1334,.93],[1348,.955],[1366,.942],[1382,.96],
  [50,.86],[74,.875],[96,.855],[118,.87],[142,.85],[166,.868],[190,.88],[214,.87],[238,.86],[262,.885],[286,.865],[310,.895],[332,.875],[354,.86],[376,.89],[398,.87],[420,.9],[442,.88],[464,.865],[486,.895],[508,.875],[530,.9],[550,.88],[570,.91],[588,.87],[610,.9],[626,.885],[646,.91],[666,.875],[690,.9],[712,.88],[734,.895],[756,.872],[778,.9],[800,.88],[822,.895],[844,.87],[866,.89],[888,.88],[910,.9],[932,.875],[954,.895],[976,.88],[998,.905],[1016,.87],[1028,.895],[1042,.88],[1058,.92],[1070,.865],[1082,.9],[1096,.88],[1108,.91],[1122,.855],[1134,.885],[1146,.87],[1160,.9],[1184,.88],[1206,.9],[1230,.875],[1248,.905],[1268,.88],[1284,.91],[1298,.885],[1318,.9],[1338,.875],[1360,.895],[1380,.88],
  [66,.82],[92,.805],[116,.83],[140,.81],[166,.825],[192,.8],[218,.82],[244,.83],[270,.81],[296,.825],[322,.805],[350,.815],[378,.83],[406,.805],[434,.82],[462,.81],[492,.83],[522,.8],[552,.825],[582,.81],[612,.79],[640,.82],[670,.805],[700,.828],[730,.81],[760,.795],[790,.825],[820,.81],[850,.79],[882,.82],[912,.805],[942,.83],[972,.81],[1002,.795],[1032,.825],[1058,.84],[1072,.81],[1086,.845],[1102,.82],[1126,.83],[1156,.81],[1188,.835],[1218,.81],[1250,.83],[1282,.81],[1315,.83],[1348,.81],
  [80,.76],[140,.75],[210,.765],[272,.745],[335,.77],[396,.75],[458,.76],[525,.74],[588,.765],[665,.75],[735,.76],[805,.745],[875,.765],[945,.75],[1015,.76],[1085,.745],[1155,.765],[1225,.75],[1280,.77],[1320,.748]
];

// ---- drawing ----
Chart.defaults.font.family = "'Liberation Sans', Arial, Helvetica, sans-serif";
const GREY = 'rgba(128,128,128,';

const framePlugin = {
  id: 'frame',
  afterDatasetsDraw(chart) {
    const a = chart.chartArea, ctx = chart.ctx;
    ctx.save();
    ctx.strokeStyle = '#7d7d7d';
    ctx.lineWidth = 1.6;
    ctx.strokeRect(a.left, a.top, a.right - a.left, a.bottom - a.top);
    ctx.restore();
  }
};

const panels = [
  { title: panelTitles[0], yTitle: yTitles[0], xTitle: xTitles[0], pts: basinEnvPts, ones: basinEnvOnes, onesAlpha: 0.85,
    fitX: basinEnvFitX, fitY: basinEnvFitY, xTicks: basinEnvXTicks, yTicks: basinEnvYTicks, xDec: 0, yDec: 1,
    xMin: 0.068, xMax: 4.248, yMin: -0.023, yMax: 1.113,
    left: 0, top: 0, w: 634, h: 716, clipW: 634, pad: { left: 0, top: 41, right: 10, bottom: 0 }, yW: 78, xH: 66, tTop: 3 },
  { title: panelTitles[1], yTitle: yTitles[1], xTitle: xTitles[0], pts: mainEnvPts, ones: mainEnvOnes, onesAlpha: 0.45,
    fitX: mainEnvFitX, fitY: mainEnvFitY, band: true, xTicks: mainEnvXTicks, yTicks: mainEnvYTicks, xDec: 0, yDec: 1,
    xMin: 0.316, xMax: 4.105, yMin: 0.289, yMax: 1.112,
    left: 634, top: 0, w: 634, h: 716, clipW: 634, pad: { left: 2, top: 41, right: 8, bottom: 0 }, yW: 78, xH: 66, tTop: 3 },
  { title: panelTitles[2], yTitle: yTitles[2], xTitle: xTitles[0], pts: tribEnvPts, ones: tribEnvOnes, onesAlpha: 0.85,
    fitX: tribEnvFitX, fitY: tribEnvFitY, xTicks: tribEnvXTicks, yTicks: tribEnvYTicks, xDec: 0, yDec: 2,
    xMin: 0.095, xMax: 3.51, yMin: -0.024, yMax: 1.095,
    left: 1268, top: 0, w: 634, h: 716, clipW: 634, pad: { left: 1, top: 41, right: 9, bottom: 0 }, yW: 96, xH: 66, tTop: 3 },
  { title: panelTitles[3], yTitle: yTitles[0], xTitle: xTitles[1], pts: basinSpaPts, ones: basinSpaOnes, onesAlpha: 0.85,
    xTicks: basinSpaXTicks, yTicks: basinSpaYTicks, xDec: 0, yDec: 2,
    xMin: -92, xMax: 2118, yMin: -0.02, yMax: 1.046,
    left: 0, top: 715, w: 634, h: 715, clipW: 634, pad: { left: 0, top: 41, right: 10, bottom: 0 }, yW: 94, xH: 65, tTop: 717 },
  { title: panelTitles[4], yTitle: yTitles[1], xTitle: xTitles[1], pts: mainSpaPts, ones: mainSpaOnes, onesAlpha: 0.45,
    xTicks: mainSpaXTicks, yTicks: mainSpaYTicks, xDec: 0, yDec: 1,
    xMin: -43, xMax: 1002, yMin: 0.294, yMax: 1.032,
    left: 634, top: 715, w: 700, h: 715, clipW: 638, pad: { left: 2, top: 41, right: 74, bottom: 0 }, yW: 78, xH: 65, tTop: 717 },
  { title: panelTitles[5], yTitle: yTitles[2], xTitle: xTitles[1], pts: tribSpaPts, ones: tribSpaOnes, onesAlpha: 0.85,
    xTicks: tribSpaXTicks, yTicks: tribSpaYTicks, xDec: 0, yDec: 2,
    xMin: -82, xMax: 1830, yMin: -0.02, yMax: 1.046,
    left: 1268, top: 715, w: 634, h: 715, clipW: 634, pad: { left: 1, top: 41, right: 9, bottom: 0 }, yW: 96, xH: 65, tTop: 717 }
];

function axis(p, isX) {
  const vals = isX ? p.xTicks : p.yTicks;
  const dec = isX ? p.xDec : p.yDec;
  return {
    type: 'linear',
    min: isX ? p.xMin : p.yMin,
    max: isX ? p.xMax : p.yMax,
    afterBuildTicks: s => { s.ticks = vals.map(v => ({ value: v })); },
    afterFit: s => { if (isX) s.height = p.xH; else s.width = p.yW; },
    grid: { drawOnChartArea: false, drawTicks: true, tickLength: 5, tickColor: '#4d4d4d', tickWidth: 1.5 },
    border: { display: false },
    ticks: {
      autoSkip: false, maxRotation: 0, padding: isX ? 3 : 6, color: '#000',
      font: { size: 25, weight: 'bold' },
      callback: v => Number(v).toFixed(dec)
    },
    title: { display: true, text: isX ? p.xTitle : p.yTitle, color: '#000',
             font: { size: 27, weight: 'bold' }, padding: { top: 4, bottom: 4 } }
  };
}

const page = document.getElementById('page');
panels.forEach(p => {
  const cell = document.createElement('div');
  cell.className = 'cell';
  cell.style.left = p.left + 'px';
  cell.style.top = p.top + 'px';
  cell.style.width = p.clipW + 'px';
  cell.style.height = p.h + 'px';
  const cv = document.createElement('canvas');
  cv.width = p.w; cv.height = p.h;
  cell.appendChild(cv);
  page.appendChild(cell);

  const t = document.createElement('div');
  t.className = 'ttl';
  t.textContent = p.title;
  t.style.left = (p.left + p.pad.left + p.yW) + 'px';
  t.style.top = p.tTop + 'px';
  page.appendChild(t);

  const datasets = [];
  if (p.fitX) {
    datasets.push({ type: 'line', data: p.fitX.map((x, i) => ({ x, y: p.fitY[i] })), borderColor: '#000',
                    borderWidth: 6.5, pointRadius: 0, fill: false, order: 0, borderCapStyle: 'butt' });
  }
  if (p.band) {
    datasets.push({ type: 'line', data: mainEnvBandX.map((x, i) => ({ x, y: mainEnvBandHi[i] })), borderWidth: 0,
                    borderColor: 'rgba(0,0,0,0)', pointRadius: 0, fill: '+1', backgroundColor: 'rgba(205,205,205,0.3)', order: 1 });
    datasets.push({ type: 'line', data: mainEnvBandX.map((x, i) => ({ x, y: mainEnvBandLo[i] })), borderWidth: 0,
                    borderColor: 'rgba(0,0,0,0)', pointRadius: 0, fill: false, order: 1 });
  }
  datasets.push({ type: 'scatter', data: p.ones.map(x => ({ x, y: 1 })), pointRadius: 4.6,
                  backgroundColor: GREY + p.onesAlpha + ')', borderColor: GREY + Math.min(1, p.onesAlpha + 0.1) + ')', borderWidth: 1, order: 2 });
  datasets.push({ type: 'scatter', data: p.pts.map(([x, y]) => ({ x, y })), pointRadius: 4.6,
                  backgroundColor: GREY + '0.45)', borderColor: GREY + '0.6)', borderWidth: 1, order: 3 });

  new Chart(cv, {
    type: 'scatter',
    data: { datasets },
    options: {
      responsive: false, animation: false, devicePixelRatio: 1, events: [],
      layout: { padding: p.pad },
      plugins: { legend: { display: false }, tooltip: { enabled: false }, title: { display: false } },
      scales: { x: axis(p, true), y: axis(p, false) },
      elements: { line: { tension: 0 } }
    },
    plugins: [framePlugin]
  });
});
</script>
</body>
</html>
